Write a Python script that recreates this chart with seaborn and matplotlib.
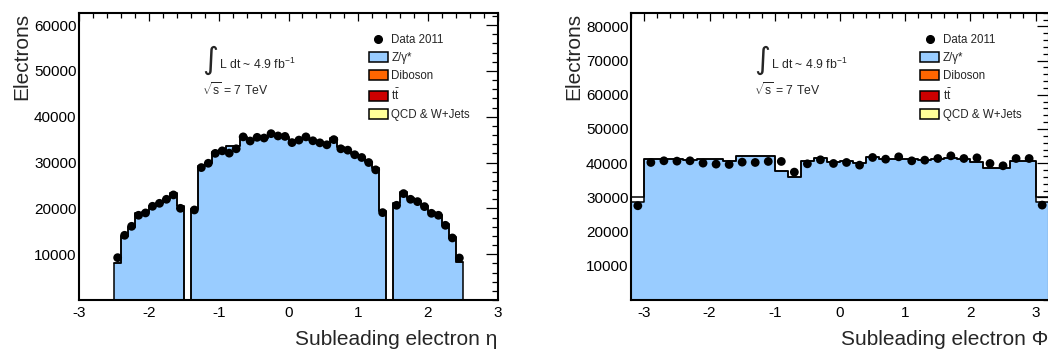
import numpy as np
import matplotlib
matplotlib.use("Agg")
import matplotlib.pyplot as plt
import seaborn as sns
from matplotlib.ticker import MultipleLocator, FixedLocator
from matplotlib.patches import Patch
from matplotlib.lines import Line2D

# ---------------- data ----------------
eta_edges = [float(v) for v in np.round(np.arange(-2.5, 2.5001, 0.1), 2)]
eta_centers = np.round(np.array(eta_edges[:-1]) + 0.05, 3)
eta_data = [9240, 14120, 16080, 18490, 19000, 20450, 21100, 21980, 22930, 20010,
            np.nan,
            19650, 28900, 29840, 32000, 32550, 32050, 33000, 35600, 34700, 35500,
            35350, 36300, 35800, 35700, 34350, 34900, 35600, 34750, 34300, 33870,
            35000, 33000, 32700, 31700, 31100, 30000, 28400, 19070,
            np.nan,
            20670, 23220, 21980, 21470, 20380, 18920, 18490, 16300, 13540, 9170]
eta_mc = [8150, 14000, 16000, 18900, 19300, 20500, 21200, 22100, 23300, 20500,
          0,
          19900, 29250, 30000, 32200, 32800, 33500, 33600, 35500, 34900, 35300,
          35300, 36000, 35800, 35600, 34500, 35000, 35400, 34900, 34400, 34000,
          35400, 33300, 32800, 31900, 31300, 30200, 28700, 19500,
          0,
          21200, 23500, 22200, 21600, 20500, 19100, 18600, 16500, 13700, 8200]

phi_edges = [float(v) for v in np.round(np.arange(-3.2, 3.2001, 0.2), 2)]
phi_centers = np.round(np.array(phi_edges[:-1]) + 0.1, 3)
phi_data = [27560, 40210, 40700, 40600, 40700, 40020, 39730, 39630, 40310, 40210,
            40510, 40510, 37390, 39820, 40990, 39920, 40210, 39430, 41670, 41180,
            41860, 40690, 40890, 41370, 42150, 41370, 41570, 39920, 39240, 41370,
            41370, 27750]
phi_mc_total = [30100, 41080, 41080, 41080, 41000, 41080, 41370, 40690, 42060, 42060,
                42060, 37680, 35830, 40690, 41470, 40300, 40690, 39920, 41670, 41370,
                41370, 41180, 40890, 41180, 41570, 41370, 40400, 38650, 38650, 40690,
                40690, 30100]
phi_mc_z = [28700, 41080, 41080, 41080, 41000, 41080, 41370, 40690, 42060, 42060,
            42060, 37680, 35830, 40690, 41470, 40300, 40690, 39920, 41670, 41370,
            41370, 41180, 40890, 41180, 41570, 41370, 40400, 38650, 38650, 40690,
            40690, 28700]

legend_labels = ["Data 2011", "Z/\u03b3*", "Diboson", r"t$\bar{\rm t}$", "QCD & W+Jets"]
legend_colors = ["black", "#99ccff", "#ff6600", "#cc0000", "#ffff99"]

# ---------------- style ----------------
sns.set_style("white")
plt.rcParams["font.family"] = ["Liberation Sans", "DejaVu Sans"]
plt.rcParams["mathtext.fontset"] = "custom"
plt.rcParams["mathtext.rm"] = "Liberation Sans"
plt.rcParams["mathtext.it"] = "Liberation Sans:italic"
plt.rcParams["axes.unicode_minus"] = False

W, H = 1048, 359
fig = plt.figure(figsize=(W / 100, H / 100), dpi=100)
ax1 = fig.add_axes([79.3 / W, 59 / H, 418.4 / W, 287.3 / H])
ax2 = fig.add_axes([631.3 / W, 59 / H, 417.4 / W, 287.3 / H])


def draw_panel(ax, centers, edges, z, total, data, xlim, ylim, ymajor, xlabel):
    sns.histplot(x=centers, weights=z, bins=edges, element="step", fill=True,
                 color="#99ccff", alpha=1, edgecolor="black", linewidth=1.1, ax=ax)
    sns.histplot(x=centers, weights=total, bins=edges, element="step", fill=False,
                 color="black", linewidth=1.1, ax=ax)
    sns.scatterplot(x=centers, y=data, color="black", s=40, edgecolor="none",
                    ax=ax, legend=False, zorder=5)
    ax.set_xlim(*xlim)
    ax.set_ylim(*ylim)
    ax.xaxis.set_major_locator(MultipleLocator(1))
    ax.xaxis.set_minor_locator(MultipleLocator(0.2))
    ax.yaxis.set_major_locator(FixedLocator(ymajor))
    ax.yaxis.set_minor_locator(MultipleLocator(2000))
    ax.tick_params(axis="both", which="both", direction="in", top=True, right=True,
                   labelsize=11, width=0.9, colors="black")
    ax.tick_params(axis="y", which="major", length=8.5, pad=2)
    ax.tick_params(axis="y", which="minor", length=4.5)
    ax.tick_params(axis="x", which="major", length=6, pad=4)
    ax.tick_params(axis="x", which="minor", length=3.3)
    for s in ax.spines.values():
        s.set_linewidth(1.5)
        s.set_color("black")
    ax.set_xlabel(xlabel, fontsize=15, loc="right")
    ax.xaxis.set_label_coords(1.0, -0.105)
    ax.set_ylabel("Electrons", fontsize=15, loc="top")
    ax.yaxis.set_label_coords(-0.115, 1.0)

    ax.text(0.313, 0.834, "\u222b", transform=ax.transAxes, fontsize=22,
            family="DejaVu Sans", ha="center", va="center")
    ax.text(0.334, 0.803, r"L dt ~ 4.9 fb$^{-1}$", transform=ax.transAxes,
            fontsize=8.8, ha="left", va="baseline")
    ax.text(0.294, 0.714, r"$\sqrt{\rm s}$ = 7 TeV", transform=ax.transAxes,
            fontsize=8.8, ha="left", va="baseline")

    handles = [Line2D([], [], marker="o", color="black", linestyle="none",
                      markersize=5.5)]
    for c in legend_colors[1:]:
        handles.append(Patch(facecolor=c, edgecolor="black", linewidth=1.1))
    ax.legend(handles, legend_labels, loc="upper left", bbox_to_anchor=(0.692, 0.925),
              frameon=False, fontsize=8.3, handlelength=1.65, handleheight=0.95,
              handletextpad=0.3, labelspacing=0.5, borderpad=0, borderaxespad=0)


draw_panel(ax1, eta_centers, eta_edges, eta_mc, eta_mc, eta_data,
           (-3, 3), (0, 62700), [10000, 20000, 30000, 40000, 50000, 60000],
           "Subleading electron \u03b7")
draw_panel(ax2, phi_centers, phi_edges, phi_mc_z, phi_mc_total, phi_data,
           (-3.2, 3.2), (0, 84000),
           [10000, 20000, 30000, 40000, 50000, 60000, 70000, 80000],
           "Subleading electron \u03a6")

fig.savefig("out.png", dpi=100)
